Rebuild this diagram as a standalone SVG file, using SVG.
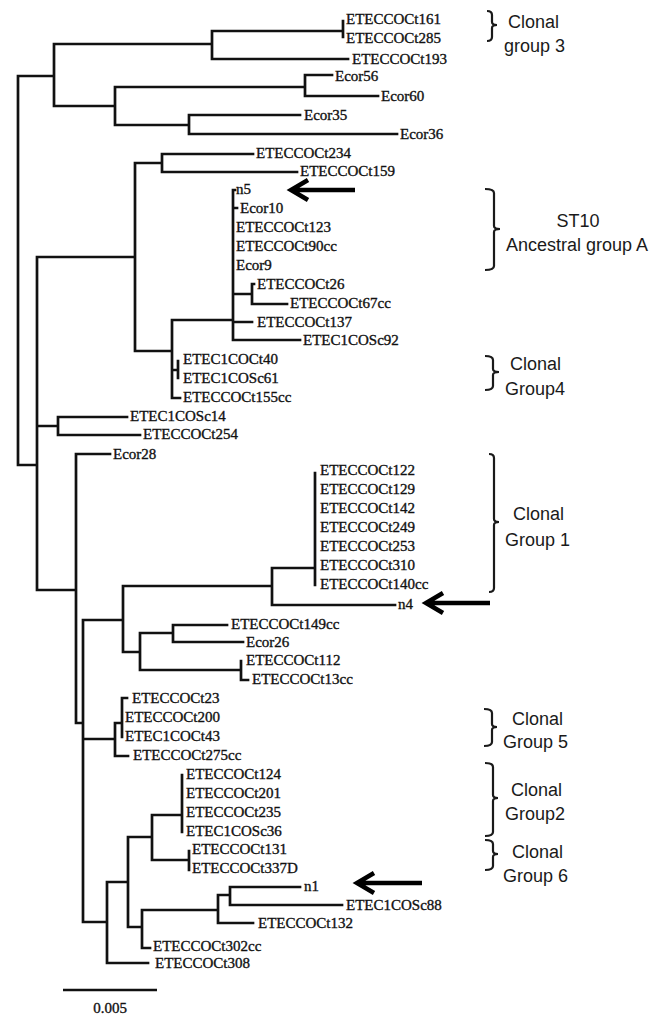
<svg xmlns="http://www.w3.org/2000/svg" width="665" height="1017" viewBox="0 0 665 1017">
<style>
.tree{fill:none;stroke:#111;stroke-width:2.7;stroke-linecap:square;stroke-linejoin:miter}
.lbl{font-family:"Liberation Serif","Times New Roman",serif;font-size:15px;fill:#111;stroke:#111;stroke-width:0.35}
.grp{font-family:"Liberation Sans",Arial,sans-serif;font-size:18px;fill:#1a1a1a}
.br{fill:none;stroke:#1a1a1a;stroke-width:2.2}
.arr{fill:none;stroke:#000;stroke-width:4.5;stroke-linecap:butt;stroke-linejoin:miter}
</style>
<rect width="665" height="1017" fill="#fff"/>
<g id="connectors">
<path class="tree" d="M18,76 V465 M18,76 H54 M54,44 V106 M54,44 H212 M212,31 V59 M212,31 H343 M343,21 V37 M212,59 H348 M54,106 H115 M115,87 V125 M115,87 H305 M305,75 V96 M305,75 H332 M305,96 H378 M115,125 H189 M189,115 V134 M189,115 H300 M189,134 H397 M18,465 H37 M37,257 V590 M37,257 H135 M135,163 V351 M135,163 H162 M162,154 V172 M162,154 H253 M162,172 H297 M135,351 H172 M172,320 V398 M172,320 H233 M233,190 V340 M233,190 H235 M233,208 H237 M233,294 H252 M252,284 V304 M252,284 H254 M252,304 H287 M233,322 H252 M233,340 H300 M172,370 H178 M178,361 V378 M172,398 H180 M37,426 H58 M58,417 V435 M58,417 H127 M58,435 H140 M37,590 H76 M76,454 V723 M76,454 H110 M76,723 H83 M83,620 V922 M83,620 H123 M123,586 V652 M123,586 H272 M272,568 V605 M272,568 H315 M315,473 V585 M272,605 H395 M123,652 H140 M140,633 V670 M140,633 H173 M173,625 V642 M173,625 H227 M173,642 H243 M140,670 H241 M241,661 V680 M241,680 H248 M83,739 H115 M115,723 V756 M115,723 H122 M122,698 V737 M122,698 H127 M115,756 H128 M83,922 H107 M107,882 V963 M107,882 H128 M128,837 V927 M128,837 H152 M152,815 V860 M152,815 H182 M182,775 V832 M152,860 H189 M189,851 V870 M128,927 H142 M142,910 V948 M142,948 H150 M142,910 H218 M218,895 V923 M218,895 H230 M230,887 V905 M230,887 H300 M230,905 H342 M218,923 H253 M107,963 H148"/>
</g>
<g id="leaves">
<g id="n-ETECCOCt161"><text class="lbl" x="346" y="24">ETECCOCt161</text></g>
<g id="n-ETECCOCt285"><text class="lbl" x="346" y="43">ETECCOCt285</text></g>
<g id="n-ETECCOCt193"><text class="lbl" x="352" y="64">ETECCOCt193</text></g>
<g id="n-Ecor56"><text class="lbl" x="335" y="81">Ecor56</text></g>
<g id="n-Ecor60"><text class="lbl" x="381" y="101">Ecor60</text></g>
<g id="n-Ecor35"><text class="lbl" x="304" y="120">Ecor35</text></g>
<g id="n-Ecor36"><text class="lbl" x="400" y="139">Ecor36</text></g>
<g id="n-ETECCOCt234"><text class="lbl" x="256" y="158">ETECCOCt234</text></g>
<g id="n-ETECCOCt159"><text class="lbl" x="300" y="176">ETECCOCt159</text></g>
<g id="n-n5"><text class="lbl" x="236" y="194">n5</text></g>
<g id="n-Ecor10"><text class="lbl" x="240" y="213">Ecor10</text></g>
<g id="n-ETECCOCt123"><text class="lbl" x="236" y="232">ETECCOCt123</text></g>
<g id="n-ETECCOCt90cc"><text class="lbl" x="236" y="251">ETECCOCt90cc</text></g>
<g id="n-Ecor9"><text class="lbl" x="236" y="270">Ecor9</text></g>
<g id="n-ETECCOCt26"><text class="lbl" x="257" y="289">ETECCOCt26</text></g>
<g id="n-ETECCOCt67cc"><text class="lbl" x="290" y="308">ETECCOCt67cc</text></g>
<g id="n-ETECCOCt137"><text class="lbl" x="257" y="327">ETECCOCt137</text></g>
<g id="n-ETEC1COSc92"><text class="lbl" x="303" y="345">ETEC1COSc92</text></g>
<g id="n-ETEC1COCt40"><text class="lbl" x="183" y="364">ETEC1COCt40</text></g>
<g id="n-ETEC1COSc61"><text class="lbl" x="183" y="383">ETEC1COSc61</text></g>
<g id="n-ETECCOCt155cc"><text class="lbl" x="183" y="402">ETECCOCt155cc</text></g>
<g id="n-ETEC1COSc14"><text class="lbl" x="130" y="421">ETEC1COSc14</text></g>
<g id="n-ETECCOCt254"><text class="lbl" x="143" y="439">ETECCOCt254</text></g>
<g id="n-Ecor28"><text class="lbl" x="113" y="459">Ecor28</text></g>
<g id="n-ETECCOCt122"><text class="lbl" x="320" y="475">ETECCOCt122</text></g>
<g id="n-ETECCOCt129"><text class="lbl" x="320" y="494">ETECCOCt129</text></g>
<g id="n-ETECCOCt142"><text class="lbl" x="320" y="513">ETECCOCt142</text></g>
<g id="n-ETECCOCt249"><text class="lbl" x="320" y="532">ETECCOCt249</text></g>
<g id="n-ETECCOCt253"><text class="lbl" x="320" y="551">ETECCOCt253</text></g>
<g id="n-ETECCOCt310"><text class="lbl" x="320" y="570">ETECCOCt310</text></g>
<g id="n-ETECCOCt140cc"><text class="lbl" x="320" y="589">ETECCOCt140cc</text></g>
<g id="n-n4"><text class="lbl" x="398" y="609">n4</text></g>
<g id="n-ETECCOCt149cc"><text class="lbl" x="231" y="629">ETECCOCt149cc</text></g>
<g id="n-Ecor26"><text class="lbl" x="246" y="647">Ecor26</text></g>
<g id="n-ETECCOCt112"><text class="lbl" x="246" y="665">ETECCOCt112</text></g>
<g id="n-ETECCOCt13cc"><text class="lbl" x="252" y="684">ETECCOCt13cc</text></g>
<g id="n-ETECCOCt23"><text class="lbl" x="132" y="703">ETECCOCt23</text></g>
<g id="n-ETECCOCt200"><text class="lbl" x="125" y="722">ETECCOCt200</text></g>
<g id="n-ETEC1COCt43"><text class="lbl" x="125" y="741">ETEC1COCt43</text></g>
<g id="n-ETECCOCt275cc"><text class="lbl" x="133" y="760">ETECCOCt275cc</text></g>
<g id="n-ETECCOCt124"><text class="lbl" x="186" y="779">ETECCOCt124</text></g>
<g id="n-ETECCOCt201"><text class="lbl" x="186" y="798">ETECCOCt201</text></g>
<g id="n-ETECCOCt235"><text class="lbl" x="186" y="817">ETECCOCt235</text></g>
<g id="n-ETEC1COSc36"><text class="lbl" x="186" y="836">ETEC1COSc36</text></g>
<g id="n-ETECCOCt131"><text class="lbl" x="192" y="854">ETECCOCt131</text></g>
<g id="n-ETECCOCt337D"><text class="lbl" x="192" y="873">ETECCOCt337D</text></g>
<g id="n-n1"><text class="lbl" x="304" y="891">n1</text></g>
<g id="n-ETEC1COSc88"><text class="lbl" x="346" y="910">ETEC1COSc88</text></g>
<g id="n-ETECCOCt132"><text class="lbl" x="258" y="928">ETECCOCt132</text></g>
<g id="n-ETECCOCt302cc"><text class="lbl" x="153" y="951">ETECCOCt302cc</text></g>
<g id="n-ETECCOCt308"><text class="lbl" x="155" y="968">ETECCOCt308</text></g>
</g>
<g id="arrows">
<path class="arr" d="M355,190 H293 M308,180 L291,190 L308,200"/>
<path class="arr" d="M490,603 H428 M443,593 L426,603 L443,613"/>
<path class="arr" d="M422,883 H359 M374,873 L357,883 L374,893"/>
</g>
<g id="group-clonal3">
<path class="br" d="M487,11 Q492,11 492,15 V22 Q492,25 497,25 Q492,25 492,28 V37 Q492,41 487,41"/>
<text class="grp" x="508" y="28">Clonal</text>
<text class="grp" x="504" y="52">group 3</text>
</g>
<g id="group-st10">
<path class="br" d="M485,189 Q494,189 494,193 V226 Q494,229 500,229 Q494,229 494,232 V266 Q494,270 485,270"/>
<text class="grp" x="578" y="227" text-anchor="middle">ST10</text>
<text class="grp" x="577" y="251" text-anchor="middle">Ancestral group A</text>
</g>
<g id="group-clonal4">
<path class="br" d="M485,356 Q493,356 493,360 V369 Q493,372 499,372 Q493,372 493,375 V386 Q493,390 485,390"/>
<text class="grp" x="510" y="370">Clonal</text>
<text class="grp" x="505" y="395">Group4</text>
</g>
<g id="group-clonal1">
<path class="br" d="M489,454 Q494,454 494,458 V519 Q494,522 499,522 Q494,522 494,525 V588 Q494,592 489,592"/>
<text class="grp" x="513" y="520">Clonal</text>
<text class="grp" x="505" y="546">Group 1</text>
</g>
<g id="group-clonal5">
<path class="br" d="M484,709 Q492,709 492,713 V724 Q492,727 497,727 Q492,727 492,730 V742 Q492,746 484,746"/>
<text class="grp" x="512" y="725">Clonal</text>
<text class="grp" x="503" y="748">Group 5</text>
</g>
<g id="group-clonal2">
<path class="br" d="M485,763 Q493,763 493,767 V795 Q493,798 498,798 Q493,798 493,801 V832 Q493,836 485,836"/>
<text class="grp" x="511" y="796">Clonal</text>
<text class="grp" x="505" y="820">Group2</text>
</g>
<g id="group-clonal6">
<path class="br" d="M485,840 Q493,840 493,844 V851 Q493,854 498,854 Q493,854 493,857 V866 Q493,870 485,870"/>
<text class="grp" x="512" y="858">Clonal</text>
<text class="grp" x="503" y="882">Group 6</text>
</g>
<g id="scale">
<path class="tree" d="M63,990 H157" style="stroke-linecap:butt"/>
<text class="lbl" x="110" y="1013" text-anchor="middle">0.005</text>
</g>
</svg>
